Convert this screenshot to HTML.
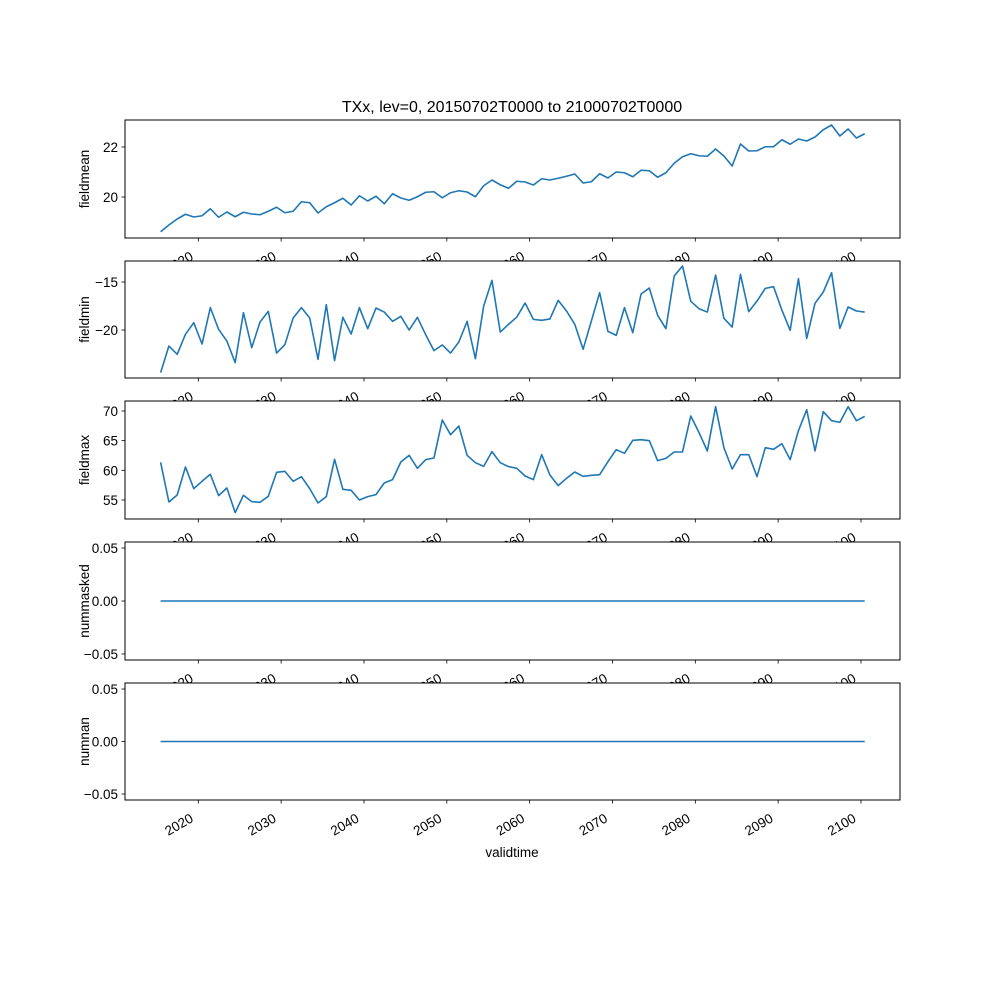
<!DOCTYPE html>
<html><head><meta charset="utf-8"><style>
body{margin:0;background:#fff}
svg text{font-family:"Liberation Sans","DejaVu Sans",sans-serif;fill:#000}
</style></head><body>
<svg id="chart" width="1000" height="1000" xmlns="http://www.w3.org/2000/svg">
<text x="512" y="112" font-size="16" text-anchor="middle">TXx, lev=0, 20150702T0000 to 21000702T0000</text>
<text x="512" y="857" font-size="13.5" text-anchor="middle">validtime</text>
</svg>
<script>
const years = [];
for (let y = 2015; y <= 2100; y++) years.push(y);
const fieldmean = [18.61,18.88,19.12,19.31,19.2,19.25,19.53,19.19,19.4,19.21,19.39,19.32,19.29,19.43,19.59,19.37,19.43,19.81,19.77,19.36,19.61,19.77,19.95,19.68,20.05,19.84,20.03,19.73,20.13,19.96,19.87,20.01,20.19,20.21,19.97,20.17,20.25,20.2,20.01,20.45,20.68,20.49,20.35,20.63,
20.6,20.48,20.73,20.68,20.75,20.83,20.92,20.56,20.61,20.93,20.76,21.0,20.97,20.81,21.07,21.05,20.79,20.97,21.35,21.61,21.73,21.65,21.63,21.92,21.64,21.24,22.12,21.84,21.85,22.01,22.01,22.29,22.11,22.32,22.24,22.4,22.69,22.88,22.44,22.72,22.36,22.53];
const fieldmin = [-24.44,-21.67,-22.53,-20.45,-19.24,-21.46,-17.67,-19.93,-21.15,-23.4,-18.19,-21.84,-19.17,-18.06,-22.4,-21.53,-18.75,-17.67,-18.75,-23.06,-17.36,-23.19,-18.68,-20.42,-17.67,-19.86,-17.71,-18.13,-19.1,-18.58,-20,-18.68,-20.49,-22.15,-21.56,-22.4,-21.25,-19.1,-22.99,-17.5,-14.83,-20.21,-19.41,-18.65,
-17.19,-18.89,-18.99,-18.85,-16.91,-18.02,-19.41,-22.01,-19.06,-16.11,-20.14,-20.56,-17.67,-20.28,-16.25,-15.63,-18.47,-19.86,-14.38,-13.33,-17.01,-17.78,-18.13,-14.27,-18.78,-19.69,-14.2,-18.09,-16.98,-15.66,-15.49,-17.92,-20.03,-14.65,-20.87,-17.22,-16.04,-14.03,-19.83,-17.6,-18.02,-18.13];
const fieldmax = [61.35,54.66,55.84,60.56,56.91,58.15,59.33,55.73,57.02,52.87,55.79,54.72,54.61,55.62,59.66,59.83,58.15,58.93,56.91,54.49,55.56,61.85,56.8,56.63,55.0,55.56,55.9,57.87,58.43,61.4,62.53,60.34,61.8,62.08,68.48,66.01,67.47,62.53,61.29,60.67,63.15,61.29,60.62,60.34,
59.04,58.43,62.64,59.21,57.42,58.65,59.72,58.99,59.16,59.27,61.46,63.48,62.87,65.06,65.17,65.0,61.63,62.02,63.09,63.09,69.16,66.35,63.26,70.73,63.82,60.22,62.64,62.64,58.93,63.82,63.54,64.49,61.8,66.69,70.22,63.26,69.89,68.37,68.09,70.73,68.37,69.1];
const nummasked = years.map(() => 0);
const numnan = years.map(() => 0);
const xTicks = [2020,2030,2040,2050,2060,2070,2080,2090,2100];

const panels = [
  {name:'fieldmean', data:fieldmean, top:120, bot:238, min:18.36, max:23.08, ticks:[20,22], fmt:v=>String(v)},
  {name:'fieldmin', data:fieldmin, top:261, bot:378, min:-25.0, max:-12.81, ticks:[-20,-15], fmt:v=>'\u2212'+Math.abs(v)},
  {name:'fieldmax', data:fieldmax, top:401, bot:519, min:51.79, max:71.69, ticks:[55,60,65,70], fmt:v=>String(v)},
  {name:'nummasked', data:nummasked, top:542, bot:660, min:-0.0557, max:0.0557, ticks:[-0.05,0,0.05], fmt:v=>(v<0?'\u2212':'')+Math.abs(v).toFixed(2)},
  {name:'numnan', data:numnan, top:683, bot:800, min:-0.0557, max:0.0557, ticks:[-0.05,0,0.05], fmt:v=>(v<0?'\u2212':'')+Math.abs(v).toFixed(2)}
];
const L = 125, R = 900, xMin = 2011.15, xMax = 2104.71;
const xs = y => L + (y - xMin) / (xMax - xMin) * (R - L);
const NS = 'http://www.w3.org/2000/svg';
const svg = document.getElementById('chart');
function mk(tag, attrs, parent) {
  const e = document.createElementNS(NS, tag);
  for (const k in attrs) e.setAttribute(k, attrs[k]);
  (parent || svg).appendChild(e);
  return e;
}
panels.forEach(p => {
  const g = mk('g', {});
  
  
  const ys = v => p.bot - (v - p.min) / (p.max - p.min) * (p.bot - p.top);
  const bg = mk('rect', {x:L, y:p.top, width:R-L, height:p.bot-p.top, fill:'#fff'}, g);
  
  
  const pts = p.data.map((v, i) => xs(years[i] + 0.45).toFixed(2) + ',' + ys(v).toFixed(2)).join(' ');
  const line = mk('polyline', {points:pts, fill:'none', stroke:'#1f77b4', 'stroke-width':1.6, 'stroke-linejoin':'round'}, g);
  
  
  const frame = mk('rect', {x:L, y:p.top, width:R-L, height:p.bot-p.top, fill:'none', stroke:'#000', 'stroke-width':1}, g);
  
  
  p.ticks.forEach(t => {
    const y = ys(t);
    mk('line', {x1:L-3.5, x2:L, y1:y, y2:y, stroke:'#000', 'stroke-width':0.8}, g);
    const tl = mk('text', {x:L-7, y:y+5, 'font-size':13.5, 'text-anchor':'end'}, g);
    
    
    tl.textContent = p.fmt(t);
  });
  const yl = mk('text', {transform:'translate(89,' + ((p.top + p.bot) / 2) + ') rotate(-90)', 'font-size':13.5, 'text-anchor':'middle'}, g);
  
  
  yl.textContent = p.name;
  xTicks.forEach(t => {
    const x = xs(t);
    mk('line', {x1:x, x2:x, y1:p.bot, y2:p.bot+3.5, stroke:'#000', 'stroke-width':0.8}, g);
    const xl = mk('text', {transform:'translate(' + (x - 4) + ',' + (p.bot + 21) + ') rotate(-30)', 'font-size':13.5, 'text-anchor':'end'}, g);
    
    
    xl.textContent = String(t);
  });
});
</script>
</body></html>
